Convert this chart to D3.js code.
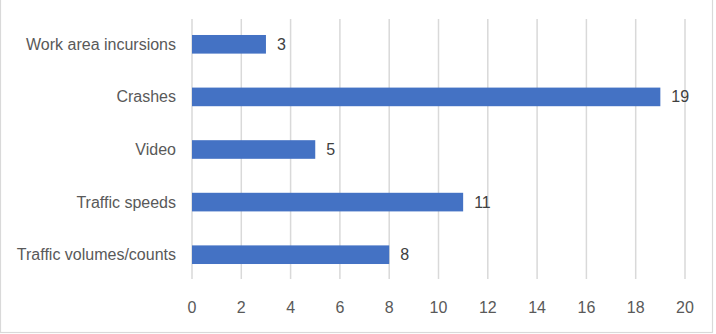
<!DOCTYPE html>
<html><head><meta charset="utf-8">
<script src="https://cdn.jsdelivr.net/npm/d3@7"></script>
<style>html,body{margin:0;padding:0;background:#fff;}svg{display:block;}</style>
</head><body>
<script>
const categories = ["Work area incursions","Crashes","Video","Traffic speeds","Traffic volumes/counts"];
const values = [3,19,5,11,8];
const xTicks = [0,2,4,6,8,10,12,14,16,18,20];

const W = 716, H = 334;
const svg = d3.select("body").append("svg").attr("width",W).attr("height",H);
const font = "'Liberation Sans', Arial, sans-serif";

svg.append("rect").attr("x",0.5).attr("y",-2).attr("width",712).attr("height",334.5)
  .attr("fill","#fff").attr("stroke","#d9d9d9").attr("stroke-width",1.2);

const x = d3.scaleLinear().domain([0,20]).range([192,685]);
const y = d3.scaleBand().domain(categories).range([18,281]).paddingInner(0.646).paddingOuter(0.323);
const gridTop = 19, gridBottom = 279;

svg.append("g").selectAll("line").data(xTicks).join("line")
  .attr("x1",d=>x(d)).attr("x2",d=>x(d)).attr("y1",gridTop).attr("y2",gridBottom)
  .attr("stroke","#d9d9d9").attr("stroke-width",1.5);

svg.append("g").selectAll("text").data(xTicks).join("text")
  .attr("x",d=>x(d)).attr("y",307).attr("text-anchor","middle").attr("dominant-baseline","central")
  .attr("font-family",font).attr("font-size",16).attr("fill","#595959").text(d=>d);

svg.append("g").selectAll("rect").data(values).join("rect")
  .attr("x",x(0)).attr("y",(d,i)=>y(categories[i])).attr("width",d=>x(d)-x(0))
  .attr("height",y.bandwidth()).attr("fill","#4472c4");

svg.append("g").selectAll("text").data(values).join("text")
  .attr("x",d=>x(d)+11).attr("y",(d,i)=>y(categories[i])+y.bandwidth()/2)
  .attr("dominant-baseline","central").attr("font-family",font).attr("font-size",16)
  .attr("fill","#404040").text(d=>d);

svg.append("g").selectAll("text").data(categories).join("text")
  .attr("x",176).attr("y",d=>y(d)+y.bandwidth()/2).attr("text-anchor","end")
  .attr("dominant-baseline","central").attr("font-family",font).attr("font-size",16)
  .attr("fill","#595959").text(d=>d);
</script>
</body></html>
